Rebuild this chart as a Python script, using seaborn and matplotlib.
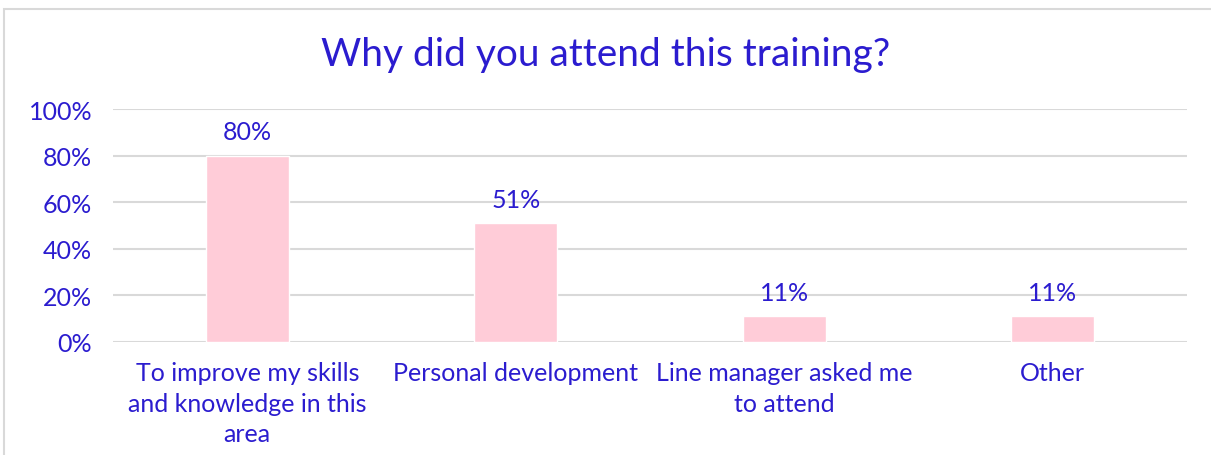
import matplotlib
matplotlib.use("Agg")
import matplotlib.pyplot as plt
from matplotlib.patches import Rectangle
from matplotlib.ticker import PercentFormatter
import seaborn as sns
import pandas as pd

reasons = [
    "To improve my skills\nand knowledge in this\narea",
    "Personal development",
    "Line manager asked me\nto attend",
    "Other",
]
shares = [0.80, 0.51, 0.11, 0.11]
y_ticks = [0, 0.2, 0.4, 0.6, 0.8, 1.0]

blue = "#2B1CCF"
pink = "#FFCCD8"
grid = "#D9D9D9"

sns.set_style("white")
plt.rcParams["font.family"] = ["Lato", "DejaVu Sans"]

df = pd.DataFrame({"reason": reasons, "share": shares})

fig = plt.figure(figsize=(12.11, 4.56), dpi=100)
ax = fig.add_axes([113 / 1211, 1 - 343 / 456, (1187 - 113) / 1211, (343 - 110) / 456])

sns.barplot(data=df, x="reason", y="share", color=pink, width=0.31,
            saturation=1, ax=ax, zorder=2)

ax.set_ylim(0, 1.0)
ax.set_xlim(-0.5, len(reasons) - 0.5)
ax.set_yticks(y_ticks)
ax.yaxis.set_major_formatter(PercentFormatter(1.0, decimals=0))
ax.grid(axis="y", color=grid, linewidth=1.5, zorder=0)
for s in ax.spines.values():
    s.set_visible(False)
ax.tick_params(axis="both", length=0, colors=blue, labelsize=18)
ax.tick_params(axis="x", pad=14)
ax.tick_params(axis="y", pad=15)
for t in ax.get_xticklabels():
    t.set_linespacing(1.38)
ax.set_xlabel("")
ax.set_ylabel("")

for c in ax.containers:
    ax.bar_label(c, labels=[f"{v:.0%}" for v in shares], padding=9,
                 color=blue, fontsize=18)

fig.text(0.5, 1 - 55 / 456, "Why did you attend this training?", ha="center",
         va="center", color=blue, fontsize=28)

# chart frame
fig.patches.append(Rectangle((4 / 1211, -0.1), 1.2, 1 - 10 / 456 + 0.1,
                             transform=fig.transFigure, fill=False,
                             edgecolor=grid, linewidth=1.5))

fig.savefig("out.png", dpi=100, facecolor="white")
